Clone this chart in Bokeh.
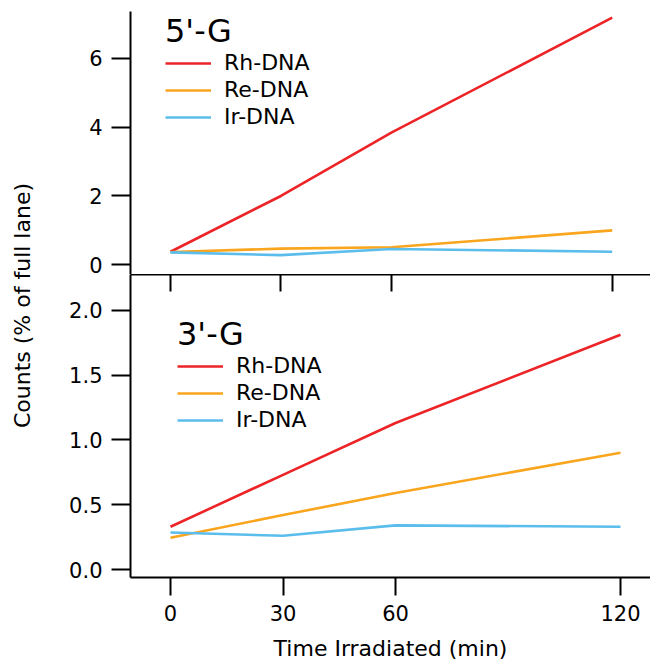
from bokeh.plotting import figure
from bokeh.models import (Range1d, LinearAxis, FixedTicker, NumeralTickFormatter,
                          Legend, LegendItem, Label)
from bokeh.layouts import row, column
from bokeh.embed import file_html
from bokeh.resources import INLINE
import math

# ---- data ----
time_min = [0, 30, 60, 120]
x_ticks = [0, 30, 60, 120]
series_names = ["Rh-DNA", "Re-DNA", "Ir-DNA"]
series_colors = ["#EC2427", "#F9A51E", "#5BBDEB"]

g5_rh = [0.38, 2.00, 3.84, 7.18]
g5_re = [0.37, 0.47, 0.51, 1.00]
g5_ir = [0.36, 0.28, 0.46, 0.38]
g5_yticks = [0, 2, 4, 6]

g3_rh = [0.33, 0.73, 1.13, 1.81]
g3_re = [0.245, 0.42, 0.59, 0.90]
g3_ir = [0.285, 0.26, 0.34, 0.33]
g3_yticks = [0.0, 0.5, 1.0, 1.5, 2.0]

FONT = "DejaVu Sans"
TICK_FS = "21px"
LEG_FS = "22px"
LAB_FS = "22px"
TITLE_FS = "32px"
LINE_W = 2.6

top_x = Range1d(-10.87, 130.4)
bot_x = Range1d(-10.67, 128.0)
bot_y = Range1d(-0.0617, 2.2753)

def style_yaxis(ax):
    ax.axis_line_width = 2
    ax.axis_line_color = "black"
    ax.major_tick_line_width = 2
    ax.major_tick_line_color = "black"
    ax.major_tick_out = 19
    ax.major_tick_in = 0
    ax.minor_tick_line_color = None
    ax.major_label_text_font = FONT
    ax.major_label_text_font_size = TICK_FS
    ax.major_label_text_color = "black"
    ax.major_label_standoff = 9

LEFT_BORDER = 80
W = 600
TOP_H = 274
BOT_BORDER = 86
BOT_H = 303 + BOT_BORDER

# ---- top panel ----
top = figure(width=W, height=TOP_H, x_range=top_x, y_range=Range1d(-0.282, 7.36),
             output_backend="svg", toolbar_location=None,
             x_axis_location=None, min_border=0,
             min_border_left=LEFT_BORDER, min_border_top=11,
             min_border_bottom=0, min_border_right=0)
top.outline_line_color = None
top.grid.visible = False
top.yaxis.ticker = FixedTicker(ticks=g5_yticks)
style_yaxis(top.yaxis[0])

r1 = top.line(time_min, g5_rh, color=series_colors[0], line_width=LINE_W)
r2 = top.line(time_min, g5_re, color=series_colors[1], line_width=LINE_W)
r3 = top.line(time_min, g5_ir, color=series_colors[2], line_width=LINE_W)

def make_legend(title, renderers, loc, title_standoff):
    lg = Legend(items=[LegendItem(label=n, renderers=[r]) for n, r in zip(series_names, renderers)],
                title=title, location=loc)
    lg.title_text_font = FONT
    lg.title_text_font_size = TITLE_FS
    lg.title_text_font_style = "normal"
    lg.title_text_color = "black"
    lg.title_standoff = title_standoff
    lg.label_text_font = FONT
    lg.label_text_font_size = LEG_FS
    lg.label_text_color = "black"
    lg.glyph_width = 46
    lg.glyph_height = 20
    lg.label_standoff = 13
    lg.spacing = 2
    lg.padding = 0
    lg.margin = 0
    lg.border_line_color = None
    lg.background_fill_alpha = 0
    return lg

top.add_layout(make_legend("5'-G", [r1, r2, r3], (35, 145), 0))

# ---- bottom panel ----
bot = figure(width=W, height=BOT_H, x_range=bot_x, y_range=bot_y,
             output_backend="svg", toolbar_location=None, min_border=0,
             min_border_left=LEFT_BORDER, min_border_top=0,
             min_border_bottom=BOT_BORDER, min_border_right=0)
bot.outline_line_color = None
bot.grid.visible = False
bot.extra_x_ranges = {"topx": top_x}

bot.yaxis.ticker = FixedTicker(ticks=g3_yticks)
bot.yaxis.formatter = NumeralTickFormatter(format="0.0")
style_yaxis(bot.yaxis[0])

xa = bot.xaxis[0]
xa.ticker = FixedTicker(ticks=x_ticks)
xa.axis_line_width = 2
xa.axis_line_color = "black"
xa.major_tick_line_width = 2
xa.major_tick_line_color = "black"
xa.major_tick_out = 18
xa.major_tick_in = 0
xa.minor_tick_line_color = None
xa.major_label_text_font = FONT
xa.major_label_text_font_size = TICK_FS
xa.major_label_text_color = "black"
xa.major_label_standoff = 9
xa.axis_label = "Time Irradiated (min)"
xa.axis_label_text_font = FONT
xa.axis_label_text_font_size = LAB_FS
xa.axis_label_text_font_style = "normal"
xa.axis_label_text_color = "black"
xa.axis_label_standoff = 12

sep = LinearAxis(x_range_name="topx", ticker=FixedTicker(ticks=x_ticks))
sep.axis_line_width = 2
sep.axis_line_color = "black"
sep.major_tick_line_width = 2
sep.major_tick_line_color = "black"
sep.major_tick_in = 17
sep.major_tick_out = 0
sep.minor_tick_line_color = None
sep.major_label_overrides = {t: "" for t in x_ticks}
sep.major_label_text_font_size = "1px"
sep.major_label_standoff = 0
bot.add_layout(sep, "above")

b1 = bot.line(time_min, g3_rh, color=series_colors[0], line_width=LINE_W)
b2 = bot.line(time_min, g3_re, color=series_colors[1], line_width=LINE_W)
b3 = bot.line(time_min, g3_ir, color=series_colors[2], line_width=LINE_W)
bot.add_layout(make_legend("3'-G", [b1, b2, b3], (47, 145), -3))

# ---- shared y label ----
LAB_W = 50
LAB_H = TOP_H + BOT_H
lab = figure(width=LAB_W, height=LAB_H, x_range=Range1d(0, LAB_W), y_range=Range1d(0, LAB_H),
             output_backend="svg", toolbar_location=None, min_border=0,
             x_axis_location=None, y_axis_location=None)
lab.outline_line_color = None
lab.grid.visible = False
lab.add_layout(Label(x=22, y=LAB_H - 305, text="Counts (% of full lane)", angle=math.pi / 2,
                     text_align="center", text_baseline="middle",
                     text_font=FONT, text_font_size=LAB_FS, text_color="black"))

layout = row(lab, column(top, bot, spacing=0), spacing=0)
open("out.html", "w").write(file_html(layout, INLINE))
